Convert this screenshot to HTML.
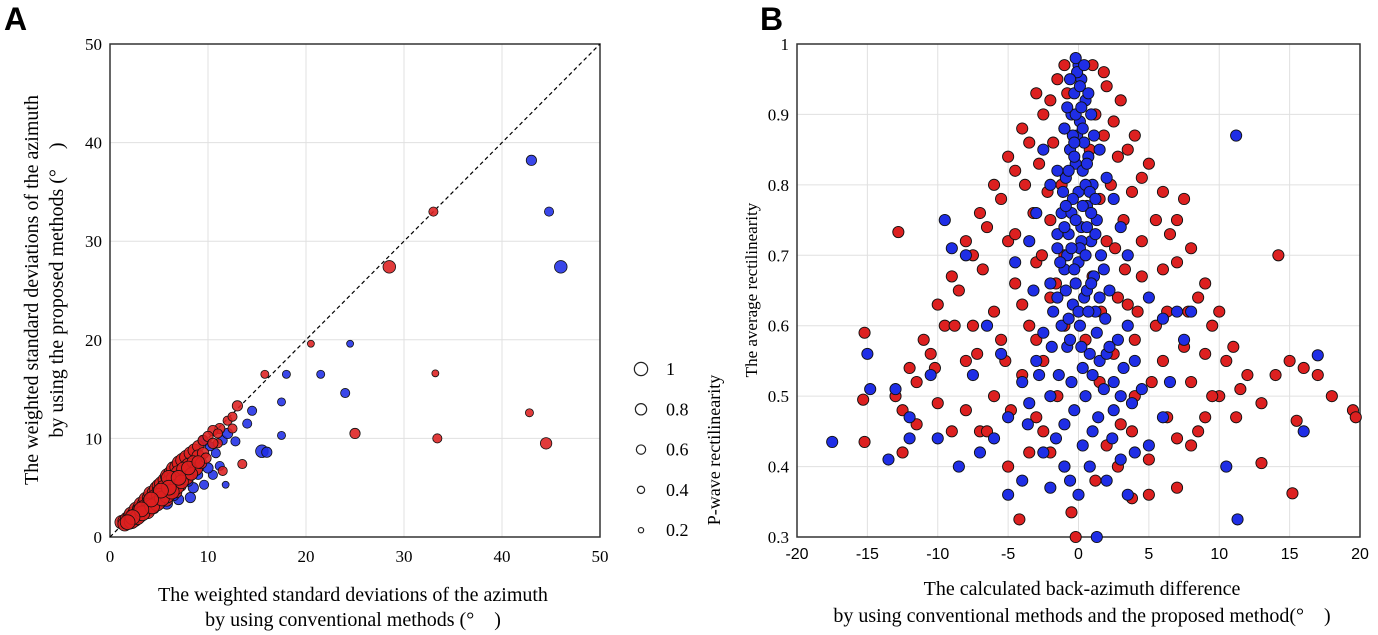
<!DOCTYPE html>
<html><head><meta charset="utf-8">
<style>
html,body{margin:0;padding:0;background:#fff;}
svg{display:block;font-family:"Liberation Serif",serif;}
</style></head>
<body>
<svg id="chart" width="1378" height="635" viewBox="0 0 1378 635" xmlns="http://www.w3.org/2000/svg">
<text x="4" y="30" font-family="Liberation Sans, sans-serif" font-weight="bold" font-size="32">A</text>
<text x="760" y="30" font-family="Liberation Sans, sans-serif" font-weight="bold" font-size="32">B</text>
<g id="pa"></g>
<g id="pb"></g>
<g font-size="20" text-anchor="middle">
<text transform="translate(38,290) rotate(-90)">The weighted standard deviations of the azimuth</text>
<text transform="translate(63,290) rotate(-90)">by using the proposed methods (°　)</text>
</g>
<g font-size="20" text-anchor="middle">
<text x="353" y="601">The weighted standard deviations of the azimuth</text>
<text x="353" y="626">by using conventional methods (°　)</text>
</g>
<g font-size="20" text-anchor="middle">
<text x="1082" y="595">The calculated back-azimuth difference</text>
<text x="1082" y="622">by using conventional methods and the proposed method(°　)</text>
</g>
<text font-size="17" text-anchor="middle" transform="translate(757,290) rotate(-90)">The average rectilinearity</text>
<g id="legend"></g>
<text font-size="18" text-anchor="middle" transform="translate(720,450) rotate(-90)">P-wave rectilinearity</text>
</svg>
<script>
const aTicks=[0,10,20,30,40,50];
const bXTicks=[-20,-15,-10,-5,0,5,10,15,20];
const bYTicks=[0.3,0.4,0.5,0.6,0.7,0.8,0.9,1];
const bYTickLabels=["0.3","0.4","0.5","0.6","0.7","0.8","0.9","1"];
const legendValues=[1,0.8,0.6,0.4,0.2];
const legendLabels=["1","0.8","0.6","0.4","0.2"];
const aBlue=[[43,38.2,.6],[44.8,33,.5],[46,27.4,.8],[24.5,19.6,.3],[24,14.6,.5],[21.5,16.5,.4],[18,16.5,.4],[17.5,13.7,.4],[15.5,8.7,.8],[16,8.6,.6],[17.5,10.3,.4],[14.5,12.8,.5],[12.8,9.7,.5],[8.2,4,.6],[9.6,5.3,.5],[10.5,6.3,.5],[11.2,7.2,.5],[11.8,5.3,.3],[14,11.5,.5],[5.8,3.4,.7],[7,3.8,.6],[8.5,5,.6],[10,7,.6],[9,6.3,.5],[3,2,.7],[4.5,2.9,.6],[6.5,4.2,.6],[10.8,8.5,.5],[11.5,9.8,.5],[12,10.5,.6],[9.5,9.7,.6],[10.2,9.2,.5],[8,5.6,.5]];
const aRed=[[33,33,.5],[28.5,27.4,.8],[20.5,19.6,.3],[33.2,16.6,.3],[25,10.5,.6],[33.4,10,.5],[42.8,12.6,.4],[44.5,9.5,.7],[15.8,16.5,.4],[13,13.3,.6],[12.5,11,.5],[11,9.5,.5],[11.5,6.7,.5],[13.5,7.4,.5],[12,11.8,.5],[12.5,12.2,.5],[11.2,11,.6],[10.5,10.8,.6],
[1.2,1.5,.9],[1.5,1.6,.9],[1.8,1.8,1],[2,2,.9],[2.2,2.3,1],[2.5,2.4,.9],[2.7,2.8,1],[3,2.9,.9],[3.2,3.3,1],[3.5,3.4,.9],[3.7,3.8,1],[4,4,.9],[4.2,4.4,1],[4.5,4.5,.9],[4.8,4.9,1],[5,5.2,.9],[5.3,5.4,1],[5.6,5.8,.9],[5.9,6.2,1],[6.2,6.5,.9],[6.5,6.9,1],[6.8,7.1,.9],[7.1,7.5,1],[7.4,7.8,.9],[7.8,8.1,.9],[8.2,8.5,.8],[8.6,8.8,.8],[9,9.2,.7],[9.5,9.8,.6],[10,10.2,.6],[2,1.5,.9],[2.5,1.8,1],[3,2.2,1],[3.5,2.6,1],[4,2.9,1],[4.5,3.3,.9],[5,3.6,1],[5.5,4,.9],[6,4.4,1],[6.5,4.8,.9],[7,5.3,.9],[7.5,5.7,.8],[8,6.2,.8],[8.5,6.6,.7],[9,7,.6],[3,2.6,1],[4,3.5,1],[5,4.5,1],[6,5.5,1],[7,6.5,1],[8,7.3,.9],[9,8.2,.8],[2.5,2.1,1],[3.5,3,1],[4.5,4,1],[5.5,5,1],[6.5,5.9,1],[7.5,6.9,.9],[8.5,7.6,.8],[9.5,8.5,.7],[10.5,9.5,.6],[11,10.5,.5],[6,6,1],[5,4.2,1],[4,3.2,1],[7.2,5.2,.7],[6.8,4.5,.6],[5.8,3.7,.7],[1.5,1.3,.9],[3.8,2.6,1],[4.8,3.4,1],[5.8,4.2,1],[6.8,5.1,1],[7.8,6,.9],[8.8,6.9,.8],[2.2,1.6,1],[2.8,2,1],[3.3,2.4,1],[4.3,3.1,1],[5.3,3.9,1],[6.3,4.6,1],[7.3,5.6,.9],[8.3,6.4,.8],[9.3,7.5,.7],[9.8,8,.6],[6,5,1],[7,6,1],[8,7,.9],[9,7.6,.8],[5.2,4.7,1],[4.2,3.8,1],[3.2,2.8,1],[2.3,2,1],[1.8,1.5,1]];
const bRed=[[-1,0.97],[1,0.97],[-1.5,0.95],[2,0.94],[-3,0.93],[3,0.92],[-2.5,0.9],[2.5,0.89],[-4,0.88],[4,0.87],[-3.5,0.86],[3.5,0.85],[-5,0.84],[5,0.83],[-4.5,0.82],[4.5,0.81],[-6,0.8],[6,0.79],[-5.5,0.78],[7.5,0.78],[-7,0.76],[7,0.75],[-6.5,0.74],[6.5,0.73],[-8,0.72],[8,0.71],[-7.5,0.7],[7,0.69],[-9,0.67],[9,0.66],[-8.5,0.65],[8.5,0.64],[-10,0.63],[10,0.62],[-9.5,0.6],[9.5,0.6],[-11,0.58],[11,0.57],[-10.5,0.56],[10.5,0.55],[-12,0.54],[12,0.53],[-11.5,0.52],[11.5,0.51],[-13,0.5],[13,0.49],[-12.5,0.48],[14,0.53],[-15.2,0.59],[-15.3,0.495],[-15.2,0.435],[-12.8,0.733],[-12.5,0.42],[-11.5,0.46],[-10,0.49],[14.2,0.7],[15,0.55],[16,0.54],[17,0.53],[18,0.5],[19.5,0.48],[19.7,0.47],[15.2,0.362],[13,0.405],[15.5,0.465],[11.2,0.47],[10,0.5],[9,0.47],[8,0.43],[7,0.37],[5,0.36],[3.8,0.355],[-4.2,0.325],[-0.5,0.335],[-0.2,0.3],[-2,0.42],[2,0.43],[-3,0.47],[3,0.46],[-1.5,0.5],[1.5,0.52],[-2.5,0.55],[2.5,0.56],[-3.5,0.6],[3.5,0.63],[-4.5,0.66],[4.5,0.67],[-5,0.72],[5.5,0.75],[-6,0.5],[6,0.55],[-7,0.45],[7,0.44],[-8,0.55],[8,0.52],[-5,0.4],[5,0.41],[-6,0.62],[6,0.68],[-1,0.88],[1.2,0.9],[-2,0.92],[1.8,0.96],[-0.8,0.93],[0.8,0.85],[-1.2,0.8],[1.5,0.78],[-2,0.75],[2,0.72],[-1,0.7],[1,0.67],[-2,0.64],[2.8,0.64],[-3,0.58],[4,0.58],[-4,0.53],[4,0.5],[-7.5,0.6],[7.5,0.57],[-9,0.45],[9.5,0.5],[-3.8,0.8],[3.8,0.79],[-2.8,0.83],[2.8,0.84],[-4.5,0.73],[4.5,0.72],[-3,0.69],[3.3,0.68],[-6.8,0.68],[6.3,0.62],[-5.5,0.58],[5.5,0.6],[-8,0.48],[8.5,0.45],[-2.5,0.45],[2.8,0.4],[-1,0.6],[0.5,0.58],[-1,0.4],[1.2,0.38],[-1.8,0.86],[1.8,0.87],[-2.2,0.79],[2.3,0.8],[-3.2,0.76],[3.2,0.75],[-2.6,0.7],[2.6,0.71],[-4,0.63],[4.2,0.62],[-5.2,0.55],[5.2,0.52],[-6.5,0.45],[6.3,0.47],[-3.5,0.42],[3.8,0.45],[-7.2,0.56],[-8.8,0.6],[-10.2,0.54],[7.8,0.62],[9,0.56],[-4.8,0.48],[1.6,0.62],[-1.6,0.66]];
const bBlue=[[0,0.97],[0.2,0.95],[-0.3,0.93],[0.5,0.92],[-0.5,0.9],[0.1,0.89],[-0.1,0.87],[0.4,0.86],[-0.6,0.85],[0.7,0.84],[-0.2,0.83],[0.3,0.82],[-0.9,0.81],[1,0.8],[0,0.79],[-0.4,0.78],[0.6,0.77],[-1.2,0.76],[1.3,0.75],[0.2,0.74],[-0.7,0.73],[0.9,0.72],[-1.5,0.71],[1.6,0.7],[0,0.69],[-1,0.68],[1.1,0.67],[-2,0.66],[2.2,0.65],[0.4,0.64],[-0.4,0.63],[-1.8,0.62],[1.9,0.61],[0.1,0.6],[-2.5,0.59],[2.8,0.58],[-0.8,0.57],[0.8,0.56],[-3,0.55],[3.2,0.54],[1.5,0.55],[2,0.56],[-1.4,0.53],[-4,0.52],[4.5,0.51],[0.5,0.5],[-3.5,0.49],[2.5,0.48],[-5,0.47],[-1,0.46],[1,0.45],[-6,0.44],[5,0.43],[-2.5,0.42],[3,0.41],[-7,0.42],[-8.5,0.4],[-10,0.44],[-12,0.44],[-13.5,0.41],[-17.5,0.435],[-15,0.56],[-14.8,0.51],[-13,0.51],[-12,0.47],[-10.5,0.53],[-9.5,0.75],[-9,0.71],[-8,0.7],[-7.5,0.53],[-5.5,0.56],[-6.5,0.6],[-4.5,0.69],[-3.5,0.72],[-3,0.76],[-2,0.8],[-1.5,0.82],[-2.5,0.85],[1.5,0.85],[2,0.81],[2.5,0.78],[3,0.74],[3.5,0.7],[5,0.64],[6,0.61],[7,0.62],[7.5,0.58],[8,0.62],[6.5,0.52],[6,0.47],[4,0.42],[3.5,0.36],[2,0.38],[1.3,0.3],[0,0.36],[-1,0.4],[-2,0.37],[-4,0.38],[-5,0.36],[11.2,0.87],[11.3,0.325],[17,0.558],[16,0.45],[10.5,0.4],[-0.2,0.9],[0.3,0.88],[-0.3,0.84],[0.5,0.8],[-0.5,0.76],[0.2,0.72],[-0.3,0.68],[0.6,0.65],[0,0.62],[-0.6,0.58],[0.3,0.54],[-0.1,0.96],[0.1,0.94],[0.2,0.91],[-0.4,0.87],[0.8,0.79],[-0.8,0.7],[1.2,0.62],[-1.2,0.6],[2.5,0.52],[-2,0.5],[3.5,0.6],[-3.2,0.65],[4,0.55],[-1.5,0.73],[1.8,0.68],[-0.2,0.98],[0.4,0.97],[-0.6,0.95],[0.7,0.93],[-0.8,0.91],[0.9,0.9],[-1,0.88],[1.1,0.87],[-0.3,0.86],[0.6,0.83],[-0.7,0.82],[-1.1,0.79],[1.2,0.78],[0.3,0.77],[-0.9,0.77],[0.9,0.76],[-0.2,0.75],[0.6,0.74],[-1,0.74],[1.2,0.73],[0.1,0.71],[-0.5,0.71],[0.5,0.7],[-1.3,0.69],[-0.2,0.66],[0.9,0.66],[-0.9,0.65],[1.5,0.64],[-1.5,0.64],[0.7,0.62],[-0.7,0.61],[1.3,0.59],[2.2,0.57],[-1.9,0.57],[0.2,0.57],[1,0.53],[-0.5,0.52],[1.8,0.51],[-2.8,0.53],[3,0.5],[-0.3,0.48],[1.4,0.47],[-1.6,0.44],[2.4,0.44],[0.3,0.43],[-3.6,0.46],[3.8,0.49],[0.8,0.4],[-0.6,0.38]];

const NS="http://www.w3.org/2000/svg";
function mk(tag,attrs,parent){const e=document.createElementNS(NS,tag);for(const k in attrs)e.setAttribute(k,attrs[k]);parent.appendChild(e);return e;}
const RED="#dd2020",BLUE="#1f2ee6";
const A={x0:110,x1:600,y0:537,y1:44};
const ax=v=>A.x0+(v-0)/50*(A.x1-A.x0);
const ay=v=>A.y0-(v-0)/50*(A.y0-A.y1);
const rA=v=>1.8+5.6*v;
const pa=document.getElementById('pa');
aTicks.forEach(t=>{
  let g=mk('line',{x1:ax(t),x2:ax(t),y1:A.y0,y2:A.y1,stroke:'#e0e0e0','stroke-width':1},pa);
  
  
  g=mk('line',{x1:A.x0,x2:A.x1,y1:ay(t),y2:ay(t),stroke:'#e0e0e0','stroke-width':1},pa);
  
  
  let tx=mk('text',{x:ax(t),y:A.y0+25,'font-size':17,'text-anchor':'middle'},pa);tx.textContent=t;
  
  
  tx=mk('text',{x:A.x0-8,y:ay(t)+6,'font-size':17,'text-anchor':'end'},pa);tx.textContent=t;
  
  
});
let fr=mk('rect',{x:A.x0,y:A.y1,width:A.x1-A.x0,height:A.y0-A.y1,fill:'none',stroke:'#333','stroke-width':1.5},pa);


let dl=mk('line',{x1:ax(0),y1:ay(0),x2:ax(50),y2:ay(50),stroke:'#000','stroke-dasharray':'4,3','stroke-width':1.2},pa);


aBlue.forEach(d=>{const c=mk('circle',{cx:ax(d[0]),cy:ay(d[1]),r:rA(d[2]),fill:BLUE,'fill-opacity':0.88,stroke:'#111','stroke-width':0.8},pa);
  
  });
aRed.forEach(d=>{const c=mk('circle',{cx:ax(d[0]),cy:ay(d[1]),r:rA(d[2]),fill:RED,'fill-opacity':0.88,stroke:'#111','stroke-width':0.8},pa);
  
  });
const lg=document.getElementById('legend');
legendValues.forEach((v,i)=>{const y=369+i*40.3;
  const c=mk('circle',{cx:641,cy:y,r:rA(v)*0.9,fill:'none',stroke:'#222','stroke-width':1.2},lg);
  
  
  const t=mk('text',{x:666,y:y+6,'font-size':18},lg);t.textContent=legendLabels[i];
  
  });
const B={x0:797,x1:1360,y0:537,y1:44};
const bx=v=>B.x0+(v+20)/40*(B.x1-B.x0);
const by=v=>B.y0-(v-0.3)/0.7*(B.y0-B.y1);
const pb=document.getElementById('pb');
bXTicks.forEach(t=>{
  let g=mk('line',{x1:bx(t),x2:bx(t),y1:B.y0,y2:B.y1,stroke:'#e0e0e0','stroke-width':1},pb);
  
  
  const tx=mk('text',{x:bx(t),y:B.y0+22,'font-size':16,'text-anchor':'middle','font-family':'Liberation Sans, sans-serif'},pb);tx.textContent=t;
  
  
});
bYTicks.forEach((t,i)=>{
  let g=mk('line',{x1:B.x0,x2:B.x1,y1:by(t),y2:by(t),stroke:'#e0e0e0','stroke-width':1},pb);
  
  
  const tx=mk('text',{x:B.x0-8,y:by(t)+6,'font-size':17,'text-anchor':'end'},pb);tx.textContent=bYTickLabels[i];
  
  
});
fr=mk('rect',{x:B.x0,y:B.y1,width:B.x1-B.x0,height:B.y0-B.y1,fill:'none',stroke:'#333','stroke-width':1.5},pb);


bRed.forEach(d=>{const c=mk('circle',{cx:bx(d[0]),cy:by(d[1]),r:5.6,fill:RED,stroke:'#111','stroke-width':0.9},pb);
  
  });
bBlue.forEach(d=>{const c=mk('circle',{cx:bx(d[0]),cy:by(d[1]),r:5.6,fill:BLUE,stroke:'#111','stroke-width':0.9},pb);
  
  });
</script>
</body></html>
